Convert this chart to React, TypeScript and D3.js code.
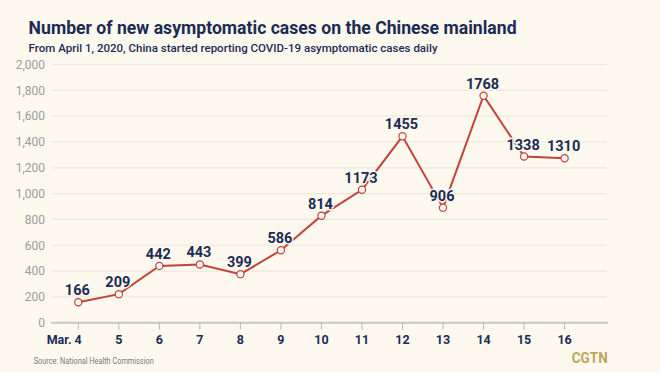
import React from "react";
import { scaleLinear, scalePoint, line, range } from "d3";

// Reported daily counts (shown as labels)
const days = ["4", "5", "6", "7", "8", "9", "10", "11", "12", "13", "14", "15", "16"];
const reported = [166, 209, 442, 443, 399, 586, 814, 1173, 1455, 906, 1768, 1338, 1310];
// Where the markers actually sit against the y axis in the original graphic
const plotted = [158, 221, 440, 451, 376, 561, 829, 1030, 1444, 891, 1758, 1287, 1274];
const yTicks = range(0, 2001, 200);

const W = 660;
const H = 372;
const BG = "#fdf9ee";
const NAVY = "#1c2b55";
const RED = "#c2433c";

const App = () => {
  const x = scalePoint().domain(days).range([78.3, 564.6]);
  const y = scaleLinear().domain([0, 2000]).range([322.7, 64.5]);
  const pts: [number, number][] = days.map((d, i) => [x(d) as number, y(plotted[i])]);
  const path = line()(pts) || "";
  const font = "Roboto, 'DejaVu Sans', sans-serif";

  return (
    <div style={{ position: "absolute", left: 0, top: 0 }}>
      <svg width={W} height={H} viewBox={`0 0 ${W} ${H}`} style={{ display: "block" }}>
        <rect width={W} height={H} fill={BG} />
        <text x={28.6} y={33.5} fontFamily={font} fontWeight={700} fontSize={17.5} fill={NAVY}
          textLength={488} lengthAdjust="spacingAndGlyphs">
          Number of new asymptomatic cases on the Chinese mainland
        </text>
        <text x={28.6} y={51.8} fontFamily={font} fontWeight={500} fontSize={11} fill={NAVY}
          textLength={409} lengthAdjust="spacingAndGlyphs">
          From April 1, 2020, China started reporting COVID-19 asymptomatic cases daily
        </text>

        {yTicks.map((t) => (
          <g key={t}>
            {t > 0 && <line x1={52} x2={607} y1={y(t)} y2={y(t)} stroke="#ece8dc" strokeWidth={1.2} />}
            <text x={45} y={y(t) + 4.3} textAnchor="end" fontFamily={font} fontSize={12}
              fill="#9b9b9b">
              {t.toLocaleString("en-US")}
            </text>
          </g>
        ))}
        <line x1={51} x2={608} y1={y(0)} y2={y(0)} stroke="#c9c7c1" strokeWidth={2} />
        {days.map((d, i) => (
          <g key={d}>
            <line x1={x(d)} x2={x(d)} y1={y(0)} y2={y(0) + 7} stroke="#b9b8b3" strokeWidth={1} />
            <text x={i === 0 ? (x(d) as number) + 3.5 : x(d)} y={343.5}
              textAnchor={i === 0 ? "end" : "middle"} fontFamily={font} fontWeight={700}
              fontSize={12.5} fill={NAVY}>
              {i === 0 ? `Mar. ${d}` : d}
            </text>
          </g>
        ))}

        <path d={path} fill="none" stroke={RED} strokeWidth={2} />
        {pts.map(([px, py], i) => (
          <circle key={i} cx={px} cy={py} r={3.6} fill="#fffaf3" stroke={RED} strokeWidth={1.2} />
        ))}
        {pts.map(([px, py], i) => (
          <text key={i} x={px - 1} y={py - 7} textAnchor="middle" fontFamily={font}
            fontWeight={700} fontSize={14.5} fill={NAVY} stroke={BG} strokeWidth={3}
            paintOrder="stroke" strokeLinejoin="round">
            {reported[i]}
          </text>
        ))}

        <text x={33.7} y={363.5} fontFamily={font} fontSize={8.5} fill="#7a7a7a"
          textLength={120} lengthAdjust="spacingAndGlyphs">
          Source: National Health Commission
        </text>
        <text x={607.7} y={363.3} textAnchor="end" fontFamily={font} fontWeight={700}
          fontSize={14.5} fill="#bfa65a" textLength={36} lengthAdjust="spacingAndGlyphs">
          CGTN
        </text>
      </svg>
    </div>
  );
};

export default App;
